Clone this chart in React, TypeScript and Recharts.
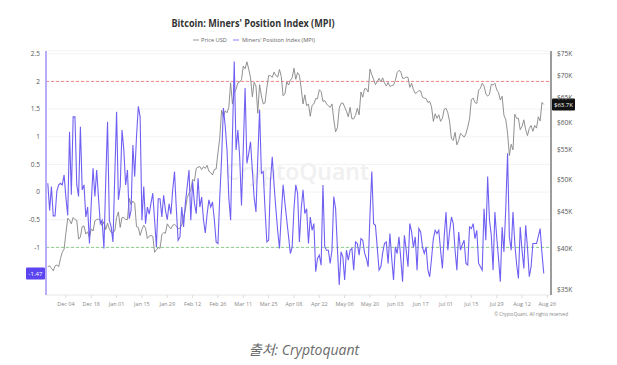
import { ComposedChart, Line, XAxis, YAxis, CartesianGrid, ReferenceLine } from 'recharts'

// daily series, day 0 = 2023-11-24, last point = 2024-08-24
const tickDays = [10, 24, 38, 52, 66, 80, 94, 108, 122, 136, 150, 164, 178, 192, 206, 220, 234, 248, 262, 276]
const tickLabels = [
  'Dec 04', 'Dec 18', 'Jan 01', 'Jan 15', 'Jan 29', 'Feb 12', 'Feb 26', 'Mar 11', 'Mar 25', 'Apr 08',
  'Apr 22', 'May 06', 'May 20', 'Jun 03', 'Jun 17', 'Jul 01', 'Jul 15', 'Jul 29', 'Aug 12', 'Aug 26',
]
const mpiTicks = [-1, -0.5, 0, 0.5, 1, 1.5, 2, 2.5]
const priceTicks = [35000, 40000, 45000, 50000, 55000, 60000, 65000, 70000, 75000]

// BTC price, $K
const priceK = [
  37.7, 37.8, 37.5, 37.2, 37.8, 37.9, 37.7,
  38.7, 39.5, 39.9, 42.0, 44.1, 43.8, 43.3, 44.2, 43.9, 43.8, 41.2, 41.5, 42.9, 43.0, 41.9, 42.2,
  41.4, 42.6, 42.3, 43.7, 43.9, 44.0, 43.7, 43.0, 43.6, 42.5, 43.4, 42.6, 42.1, 42.1, 42.3,
  44.2, 45.0, 42.8, 44.2, 44.2, 43.9, 43.9, 47.0, 46.1, 46.6, 46.3, 42.9, 42.8, 41.7, 42.5, 43.1,
  42.7, 41.3, 41.6, 41.7, 41.6, 39.5, 39.8, 40.1, 40.0, 41.8, 42.1, 42.0, 43.3, 42.9, 42.6,
  43.1, 43.2, 43.0, 42.6, 42.7, 43.1, 44.3, 45.3, 47.1, 47.8, 48.3, 50.0, 49.7, 51.8, 52.0,
  52.1, 51.6, 52.1, 51.8, 52.3, 51.3, 51.1, 50.7, 51.6, 51.7, 54.5, 57.1, 62.5, 61.2,
  62.4, 62.0, 63.1, 68.3, 63.8, 66.1, 66.9, 68.3, 68.5, 69.0, 72.1, 71.5, 73.1, 71.4, 69.4, 65.3,
  68.4, 67.6, 61.9, 67.9, 65.5, 63.8, 64.0, 67.2, 69.9, 69.9, 69.5, 70.7, 69.9, 69.6, 71.3,
  69.7, 65.5, 65.9, 68.5, 67.8, 68.9, 69.4, 71.6, 69.1, 70.6, 70.0, 67.1, 63.8, 65.7, 63.4,
  63.8, 61.3, 63.5, 63.8, 64.9, 64.9, 66.8, 66.4, 64.3, 64.5, 63.8, 63.4, 63.1, 63.8, 60.6,
  58.3, 59.1, 62.9, 63.9, 64.0, 63.2, 62.3, 61.2, 63.1, 60.8, 60.8, 61.5, 62.9, 61.6, 66.3, 65.2,
  67.0, 67.0, 66.3, 71.4, 70.1, 69.1, 67.9, 68.5, 69.3, 68.5, 69.4, 68.3, 67.6, 68.4, 67.5,
  67.7, 67.8, 68.8, 70.6, 71.1, 70.8, 69.3, 69.3, 69.6, 69.5, 67.3, 68.2, 66.8, 66.0, 66.2,
  66.6, 66.5, 65.2, 65.0, 64.9, 64.1, 64.3, 63.2, 60.3, 61.8, 60.9, 61.6, 60.3, 60.9, 62.7,
  62.9, 62.0, 60.2, 57.0, 56.7, 58.2, 55.9, 56.7, 58.0, 57.7, 57.3, 57.9, 59.2, 60.8, 64.7, 65.0,
  64.1, 63.9, 66.7, 67.1, 68.2, 67.6, 65.9, 65.4, 65.8, 68.0, 67.8, 68.2, 66.8, 66.2, 64.6,
  65.4, 61.5, 60.7, 58.1, 54.0, 56.0, 55.0, 61.7, 60.9, 60.9, 58.7, 59.3, 60.6, 58.7, 57.6,
  58.9, 59.5, 58.4, 59.5, 59.0, 61.2, 60.4, 64.1, 63.7,
]

const mpi = [
  0.16, -0.33, 0.1, -0.43, -0.43, 0.02, 0.13, 0.16, 0.13, 0.31,
  -0.1, -0.42, 1.09, -0.05, 1.36, 1.36, 0.13, -0.08, 1.18, 0.04,
  0.13, -0.45, -0.27, -0.93, -0.2, 0.43, -0.08, 0.4, -0.1, -0.57,
  -0.51, -1.02, 0.2, 1.27, -0.51, -0.63, -0.9, 0.3, 1.45, -0.14,
  0.1, 1.12, 0.76, 0.13, 0.4, -0.48, -0.33, 0.85, 0.28, 1.0,
  1.55, 1.36, -0.51, 0.1, -0.57, -0.27, -0.4, -0.2, -0.02, -0.51,
  -0.99, -0.12, -0.12, -0.45, -0.06, -0.33, -0.5, -0.21, -0.4, 0.04,
  0.37, -0.3, -0.87, -0.81, -0.27, -0.63, -0.2, 0.1, 0.4, -0.51,
  0.19, -0.2, -0.39, 0.25, -0.27, -0.09, -0.5, -0.74, -0.4, -0.14,
  -0.27, -0.18, -0.5, -0.9, -0.93, -0.09, 0.6, 1.52, 1.2, 0.76,
  -0.1, -0.51, 1.0, 2.36, 0.76, 1.12, 0.64, -0.24, 0.8, 1.88,
  0.52, 0.7, 0.91, 0.4, -0.1, -0.36, 0.6, 1.49, 0.34, 0.37,
  -0.3, -0.9, -0.87, 0.2, 0.64, 0.13, -0.3, -0.7, -1.02, -0.4,
  0.13, -0.2, -0.5, -0.8, -1.11, -0.99, -0.3, 0.13, -0.02, -0.9,
  -0.3, 0.04, -0.39, -0.3, -0.93, -0.45, -0.69, -0.57, -1.44, -1.2,
  -1.14, -1.32, 0.13, -0.99, -1.05, -1.05, -1.29, -1.05, -0.08, -0.3,
  -1.02, -1.68, -1.08, -1.17, -1.59, -1.05, -1.23, -1.05, -1.02, -1.41,
  -0.9, -0.93, -1.14, -0.84, -0.87, -1.1, -1.2, -1.35, -0.4, 0.37,
  -0.57, -0.6, -1.0, -1.41, -1.35, -1.1, -0.93, -0.9, -1.29, -0.75,
  -1.2, -1.59, -0.99, -1.11, -0.81, -1.2, -1.62, -0.78, -1.05, -1.35,
  -0.57, -0.72, -1.0, -0.81, -1.41, -0.66, -0.72, -1.0, -1.11, -0.99,
  -1.41, -1.53, -1.2, -0.84, -0.69, -0.75, -0.69, -1.05, -1.38, -0.8,
  -0.36, -1.05, -0.7, -0.45, -0.57, -1.05, -1.41, -0.72, -1.05, -0.95,
  -0.87, -1.29, -1.32, -0.63, -0.66, -0.57, -0.84, -0.69, -1.29, -1.35,
  -1.41, -0.3, -0.87, 0.28, -0.5, -0.78, -1.41, -0.36, -0.81, -1.2,
  -1.62, -0.63, -1.08, -0.3, 0.7, -0.81, -1.05, -0.36, -0.93, -1.3,
  -1.56, -0.63, -1.05, -1.38, -0.6, -1.0, -1.53, -1.35, -0.93, -0.93,
  -0.93, -0.8, -0.66, -1.1, -1.47,
]

const data = mpi.map((v, i) => ({ day: i, mpi: v, price: priceK[i] * 1000 }))
const lastMpi = mpi[mpi.length - 1]
const lastPrice = priceK[priceK.length - 1] * 1000

const FONT = '"Open Sans", "Noto Sans", sans-serif'

function Badge({ viewBox, text, side, fill }: any) {
  if (!viewBox) return null
  const { x, y, width } = viewBox
  const w = side === 'left' ? 19 : 23
  const bx = side === 'left' ? x - w - 1 : x + width + 1
  return (
    <g>
      <rect x={bx} y={y - 6} width={w} height={12} fill={fill} rx={1} />
      <text x={bx + w / 2} y={y + 2.2} textAnchor="middle" fontSize={6} fill="#fff" fontFamily={FONT}>
        {text}
      </text>
    </g>
  )
}

export default function App() {
  return (
    <div style={{ position: 'absolute', left: 0, top: 0, width: 617, height: 365, background: '#fff' }}>
      <svg width={617} height={365} style={{ position: 'absolute', left: 0, top: 0 }}>
        <text x={297} y={180} textAnchor="middle" fontSize={23} fontWeight={600} fill="#f0f0f0" fontFamily={FONT}>
          CryptoQuant
        </text>
      </svg>
      <div style={{ position: 'absolute', left: 0, top: 0 }}>
        <ComposedChart width={617} height={330} data={data} margin={{ top: 51, right: 6, bottom: 15, left: 6 }}>
          <CartesianGrid yAxisId="mpi" vertical={false} stroke="#f3f3f3" />
          <XAxis
            dataKey="day"
            type="number"
            domain={[-1, 278]}
            ticks={tickDays}
            interval={0}
            tickFormatter={(d: number) => tickLabels[tickDays.indexOf(d)] ?? ''}
            tick={{ fontSize: 5.5, fill: '#888', fontFamily: FONT }}
            axisLine={{ stroke: '#ececec' }}
            tickLine={{ stroke: '#ddd' }}
            tickSize={3}
            tickMargin={4}
            height={20}
          />
          <YAxis
            yAxisId="mpi"
            orientation="left"
            width={40}
            domain={[-1.86, 2.55]}
            ticks={mpiTicks}
            allowDataOverflow
            tickFormatter={(v: number) => String(v)}
            tick={{ fontSize: 6.5, fill: '#555', fontFamily: FONT }}
            axisLine={{ stroke: '#b6adf6', strokeWidth: 2 }}
            tickLine={false}
            tickSize={3}
            tickMargin={3}
          />
          <YAxis
            yAxisId="price"
            orientation="right"
            width={60}
            scale="log"
            domain={[34400, 75700]}
            ticks={priceTicks}
            allowDataOverflow
            tickFormatter={(v: number) => `$${v / 1000}K`}
            tick={{ fontSize: 6.5, fill: '#555', fontFamily: FONT }}
            axisLine={{ stroke: '#9c9c9c', strokeWidth: 2 }}
            tickLine={false}
            tickSize={3}
            tickMargin={3}
          />
          <ReferenceLine yAxisId="mpi" y={2} stroke="#ee6b6b" strokeOpacity={0.8} strokeDasharray="3 2" strokeWidth={1} />
          <ReferenceLine yAxisId="mpi" y={-1} stroke="#74c474" strokeOpacity={0.8} strokeDasharray="3 2" strokeWidth={1} />
          <Line
            yAxisId="price"
            dataKey="price"
            type="linear"
            stroke="#858585"
            strokeWidth={0.9}
            dot={false}
            isAnimationActive={false}
          />
          <Line
            yAxisId="mpi"
            dataKey="mpi"
            type="linear"
            stroke="#7060f2"
            strokeWidth={1.1}
            dot={false}
            isAnimationActive={false}
          />
          <ReferenceLine
            yAxisId="mpi"
            y={lastMpi}
            stroke="none"
            label={<Badge side="left" text="-1.47" fill="#5b45f0" />}
          />
          <ReferenceLine
            yAxisId="price"
            y={lastPrice}
            stroke="none"
            label={<Badge side="right" text="$63.7K" fill="#111" />}
          />
        </ComposedChart>
      </div>
      <svg width={617} height={365} style={{ position: 'absolute', left: 0, top: 0, pointerEvents: 'none' }}>
        <text x={253} y={27} textAnchor="middle" fontSize={10} fontWeight={700} fill="#333" fontFamily={FONT} textLength={163} lengthAdjust="spacingAndGlyphs">
          Bitcoin: Miners' Position Index (MPI)
        </text>
        <line x1={193} x2={199} y1={40} y2={40} stroke="#999" strokeWidth={1} />
        <text x={201} y={42} fontSize={6} fill="#666" fontFamily={FONT} textLength={26} lengthAdjust="spacingAndGlyphs">
          Price USD
        </text>
        <line x1={233} x2={239} y1={40} y2={40} stroke="#8a7cf3" strokeWidth={1} />
        <text x={242} y={42} fontSize={6} fill="#666" fontFamily={FONT} textLength={73} lengthAdjust="spacingAndGlyphs">
          Miners' Position Index (MPI)
        </text>
        <text x={568} y={316} textAnchor="end" fontSize={4.6} fill="#888" fontFamily={FONT}>
          © CryptoQuant. All rights reserved
        </text>
        <text x={304} y={355} textAnchor="middle" fontSize={14} fontStyle="italic" fill="#6b6b6b" fontFamily={'"Open Sans", "Noto Sans CJK KR", sans-serif'}>
          출처: Cryptoquant
        </text>
      </svg>
    </div>
  )
}
